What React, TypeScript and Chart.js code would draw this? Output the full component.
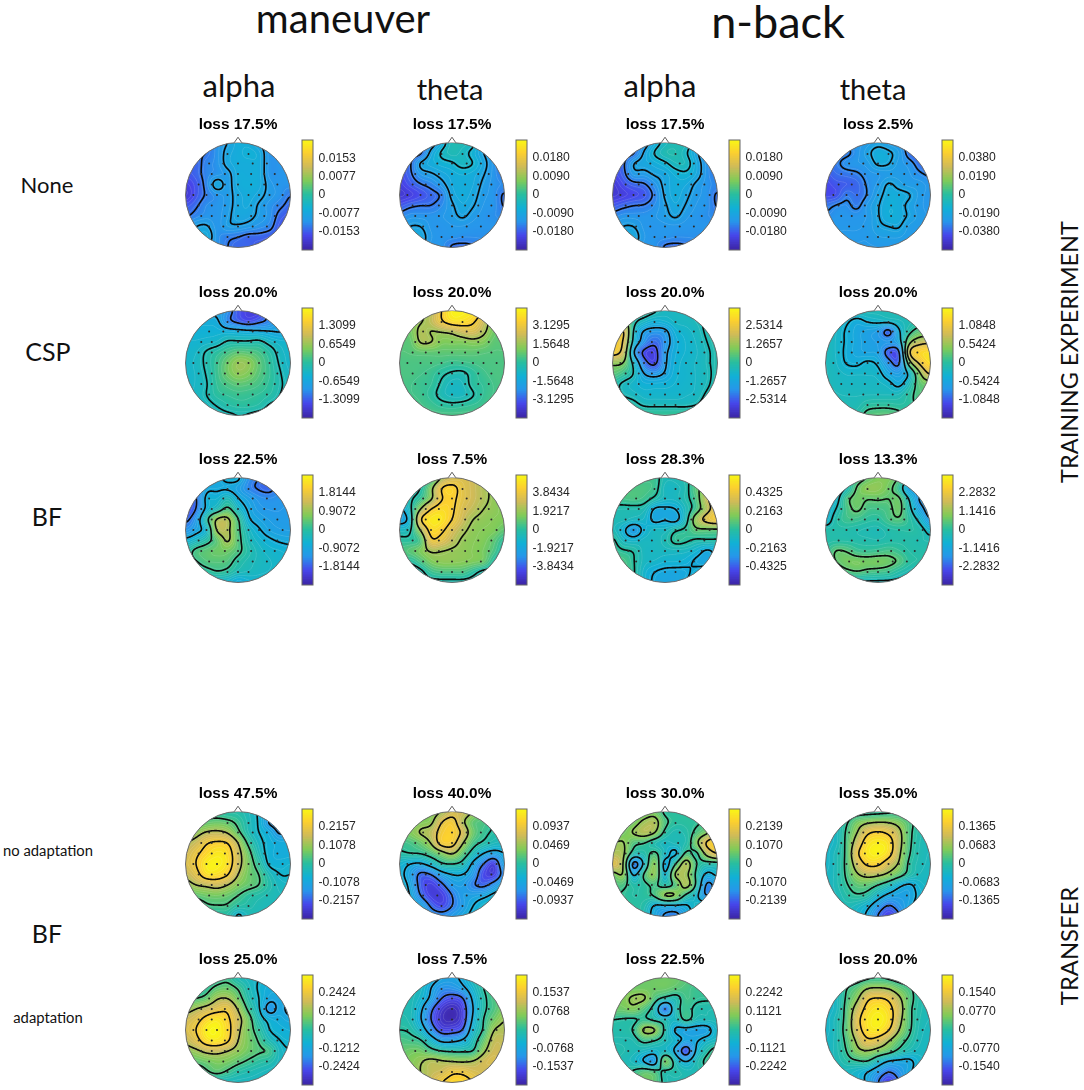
import React, { useEffect, useRef } from "react";
import { Chart, registerables } from "chart.js";

Chart.register(...registerables);

// All scalp maps are stored as 11x11 rows (front to back, left to right) in tenths of the colour limit.
const noneManeuverAlpha = [
  [-6,-6,-6,-5,-4,-3,-3,-4,-5,-5,-5],
  [-6,-6,-6,-5,-3.5,-3,-2.5,-3,-5,-5,-5],
  [-6.5,-6.5,-5.5,-5,-3.5,-3,-3,-3,-5,-5,-5],
  [-7,-6.5,-5.5,-5,-4.5,-3,-3,-3,-5,-5,-5],
  [-8,-7,-5.5,-3.2,-4.5,-3,-2.8,-3,-4.5,-5,-5],
  [-8.5,-7,-5.8,-5,-4.5,-3.5,-3,-3.5,-4.5,-5,-6],
  [-7,-6.2,-5.2,-5,-4.5,-3.5,-3.2,-4.2,-5,-5.7,-6.5],
  [-6.2,-5.5,-5,-5,-4.3,-3.5,-3.6,-4.3,-5,-6.5,-7],
  [-5,-4,-3.8,-5,-4.2,-4.2,-4.5,-5,-5.5,-7,-7],
  [-5,-3.8,-3,-5,-5.7,-6,-6.5,-6.5,-6.8,-7,-7],
  [-5,-5,-4.5,-5,-6,-6.5,-6.5,-7,-7,-7,-7],
];
const noneManeuverTheta = [
  [-6,-6,-6,-5,-3,-1,-1,-1.5,-4,-5,-5],
  [-6.5,-6.5,-6.3,-3.5,-1.8,-1,-1.5,-2.5,-4,-5,-6],
  [-7,-6.2,-3.8,-3,-2.5,-2.2,-1.5,-2,-3.5,-5,-6.5],
  [-7.5,-6.3,-4.7,-4.2,-3.5,-3,-2.7,-3,-3.9,-5,-6],
  [-8,-7,-6.1,-5.5,-4.5,-3.2,-3,-3.2,-4.3,-5,-5.3],
  [-8.5,-8,-7.3,-6.5,-5.8,-3.6,-3,-3.5,-4.6,-5,-6.3],
  [-7,-6.3,-6,-6,-5.3,-4.2,-3.3,-3.9,-4.8,-5,-6.2],
  [-5.5,-5,-5,-5,-4.8,-4.4,-3.8,-4.5,-5,-5.2,-5.5],
  [-5,-4,-4,-4.9,-5,-4.8,-4.8,-5,-5,-5,-5],
  [-5,-3.3,-3.3,-4.7,-5,-5,-5.2,-5.2,-5.2,-5.2,-5.2],
  [-5,-4.8,-3.7,-5,-5,-6.3,-6.5,-6.2,-5.3,-5.2,-5.2],
];
const noneNbackAlpha = [
  [-6,-6,-6,-5,-3,-1.5,-1,-1,-3.5,-5.5,-5.5],
  [-6.5,-6.5,-6.2,-3.8,-1.9,-0.8,-0.7,-1.8,-3.7,-5.5,-6.3],
  [-7,-6.3,-4,-3.5,-3,-2.3,-1.3,-1.3,-3.2,-5,-6.5],
  [-7.5,-6.5,-4.5,-4.5,-3.8,-3.5,-2.6,-2.3,-3.3,-5,-6],
  [-8.5,-7.3,-6.5,-6.2,-5,-3.6,-3,-3.2,-4.3,-5,-5.5],
  [-8.5,-8,-7.5,-7,-5.7,-3.8,-3,-3.7,-4.6,-5,-6.3],
  [-7,-6.4,-6,-5.9,-5.2,-4.2,-3.3,-4.1,-4.8,-5,-6.2],
  [-5.5,-5,-5,-5,-4.8,-4.4,-3.8,-4.6,-5,-5.2,-5.5],
  [-5,-4,-4,-4.9,-5,-4.9,-4.9,-5,-5,-5,-5],
  [-5,-3.3,-3.3,-4.7,-5,-5,-5.2,-5.2,-5.2,-5.2,-5.2],
  [-5,-4.8,-4,-5,-5,-6.3,-6.5,-6.2,-5.3,-5.2,-5.2],
];
const noneNbackTheta = [
  [-5,-5,-5,-5,-4.5,-4,-4.5,-5,-6,-6,-6],
  [-6,-6,-5.8,-5,-3.9,-2.8,-3.2,-4.2,-6.2,-6.8,-6.8],
  [-6.3,-5.8,-5,-4.8,-4.5,-3.2,-3.4,-4.5,-5,-6.2,-6.8],
  [-7,-6.3,-6,-5.7,-5,-4.8,-4.5,-4.5,-4.7,-5.3,-5.8],
  [-7.5,-7,-6.8,-6.5,-5.3,-4.6,-3.3,-4,-4.5,-4.5,-5],
  [-7.5,-7.2,-5.8,-6.3,-5.4,-4,-3,-3,-3.4,-4.5,-5],
  [-6,-5.4,-5.2,-5.8,-4.6,-3.6,-2.8,-3,-3.9,-4.6,-5],
  [-5.3,-5,-5,-5,-4.7,-3.6,-2.8,-3,-3.7,-4.5,-4.8],
  [-4.8,-4.8,-4.8,-4.8,-4.6,-3.8,-3.5,-3.4,-4.4,-4.6,-4.8],
  [-4.7,-4.7,-4.7,-4.7,-4.7,-4.3,-4.2,-4.2,-4.6,-4.7,-4.8],
  [-4.8,-4.8,-4.8,-4.8,-4.8,-4.8,-4.8,-4.8,-4.8,-4.8,-4.8],
];
const cspManeuverAlpha = [
  [-4,-4,-4,-4,-5,-7,-8,-8,-5,-3,-3],
  [-3,-3,-3,-3.2,-5.5,-6.6,-7.3,-6.5,-5.5,-3.3,-2.8],
  [-2.5,-2.5,-2.5,-2.5,-2.6,-2.8,-3,-3.2,-3.4,-3.6,-3],
  [-2.2,-2.2,-2,-1.7,-0.8,-0.8,-0.8,-0.6,-1.5,-2,-2.2],
  [-2,-1.8,-0.8,0,0.8,1.5,1.3,0.8,-0.2,-1.5,-2],
  [-2,-1.6,-0.7,0.5,2,3.3,3,1.5,0.2,-1.2,-2],
  [-2,-1.7,-0.9,0.5,2,3,2.5,1.3,0.3,-0.9,-1.8],
  [-2,-1.7,-1.1,0.3,1,1.5,1.3,0.8,0.1,-0.8,-1.5],
  [-1.8,-1.6,-1,0,0.3,0.5,0.4,0.2,-0.2,-1,-1.5],
  [-1.6,-1.5,-1.4,-0.9,-0.3,0,0,-0.3,-1.1,-1.3,-1.5],
  [-1.5,-1.5,-1.5,-1.5,-1.3,-1.1,-1.2,-1.5,-1.5,-1.5,-1.5],
];
const cspManeuverTheta = [
  [2,2,3,4,7,9.5,9.5,9,7,4,2],
  [2,2.5,3.3,4.5,6.8,8.5,8.5,7.5,5,2.5,2],
  [1.5,2,4,3.4,3.6,4,5,5.5,4,2,1.5],
  [1.5,1.5,3.7,3.6,2.5,2.5,2.5,2.8,2.5,1.5,1.5],
  [1.2,1.3,1.5,1.5,1.5,1.5,1.5,1.5,1.3,1.2,1.2],
  [1,1,1,1,0.8,0.5,0.6,0.8,1,1,1],
  [1,1,0.8,0.5,-0.2,-0.7,-0.8,0,0.6,1,1],
  [1,0.8,0.5,0.3,-0.7,-1.5,-1.3,0,0.3,0.8,1],
  [1,0.8,0.6,0,-1,-1.5,-1.5,-0.6,0.3,0.8,1],
  [1,1,0.8,0.5,0,-0.2,0,0.3,0.6,1,1],
  [1,1,1,1,1,1,1,1,1,1,1],
];
const cspNbackAlpha = [
  [0,0,0,0,-0.7,-1.5,-1.5,-1.5,-1,0,0],
  [1,3.5,-0.3,-1.6,-2.5,-2.2,-1.6,-1.5,-1.2,-0.7,-0.5],
  [3.5,6.5,-1.2,-4.2,-4.8,-4.5,-2.5,-2,-1.5,-0.8,-0.5],
  [7,6,-1.8,-5,-6.5,-5,-3,-2.2,-1.7,-1,-0.5],
  [7,5,-3.8,-7.5,-7.8,-4.5,-2.8,-2.2,-1.8,-1.2,-0.6],
  [3,2.5,-1.5,-6,-7.5,-4.3,-2.6,-2,-1.7,-1.2,-0.6],
  [1.5,0.5,-1,-4,-4.8,-3.8,-2.4,-2.1,-1.7,-1.3,-0.6],
  [-0.3,-1.3,-2,-2.6,-2.6,-2.5,-2.2,-2,-1.7,-1.2,-0.5],
  [0,-1.1,-1.5,-2,-2,-2,-2,-1.8,-1.6,-0.8,-0.4],
  [0.5,0,-0.5,-1.2,-1.3,-1.3,-1.3,-1.3,-1,-0.3,0],
  [0.5,0.5,0.5,0.5,0.5,0.5,0.5,0.5,0.5,0.5,0.5],
];
const cspNbackTheta = [
  [-1,-1,-1,-1,-1,-1,-1,-1,-1,-0.8,0],
  [-1.2,-1.5,-2.2,-3,-2.3,-2,-1.7,-1.3,-1,-0.3,0],
  [-1.2,-1.7,-2.7,-3.5,-4,-4.5,-6.8,-2.8,0,1.5,1.5],
  [-1.2,-1.8,-2.7,-3.5,-4,-4.3,-4.5,-3.5,2.5,4.5,5],
  [-1.2,-1.8,-2.8,-3.5,-3.8,-4,-7,-6.5,5.5,8,8.5],
  [-1.2,-1.7,-2.6,-2.8,-2.2,-2.8,-5,-6.5,2,6,8.5],
  [-1.2,-1.5,-1.8,-1.8,-1.8,-2,-3.5,-4.2,-2,2.8,6],
  [-1.2,-1.4,-1.6,-1.6,-1.6,-1.6,-2,-3,-1,1.5,2],
  [-1,-1.2,-1.3,-1.3,-1.3,-1.3,-1.3,-1.2,0,1.2,1.2],
  [-1,-1,-1,-1,-0.2,0,0,-0.2,0,1,1],
  [-1,-1,-1,-0.5,1.2,1.5,1.5,1,-0.3,0,0.3],
];
const bfManeuverAlpha = [
  [-4,-4,-4,-3.5,-2.5,-2.5,-5,-6,-6,-5,-5],
  [-5,-5.5,-3.5,-3.3,-3.3,-4,-5.5,-6.2,-6.5,-5.2,-5],
  [-6.5,-6.2,-2.5,-2.3,-1,-2.9,-4,-5,-5.2,-5,-5],
  [-7.5,-6,-2.5,-1,1,-1.5,-3.3,-4.5,-4.8,-4.8,-4.5],
  [-6.5,-4.5,-0.1,3.8,4,0.7,-2.7,-3.7,-4.3,-4.5,-4.5],
  [-5,-3.7,-2,3.8,4,1,-1.5,-2.8,-3.8,-4.2,-4.3],
  [-2.5,-1.5,-0.2,1.5,3.8,1.2,-1,-2,-2.7,-3.2,-3.4],
  [-0.5,1,1.5,2,2,1,-0.5,-1.5,-2,-2.2,-2.5],
  [-0.5,0.4,1.2,1.3,1.2,-0.2,-1,-1.4,-1.7,-2,-2.2],
  [-1,-0.8,-0.2,0.4,0,-1,-1.3,-1.6,-1.8,-2,-2.2],
  [-2.2,-2.2,-2.2,-2.2,-2.2,-3.2,-2.5,-2.2,-2.2,-2.2,-2.2],
];
const bfManeuverTheta = [
  [-1,-1,-1,0,3.5,5,5.5,5,4,3,2],
  [-1,-1,-0.5,2.8,7,7.8,6,5,4,3,2],
  [-1,-0.8,0.5,3,6.8,7.5,6,5,4,3,2],
  [-3.5,-1,3.4,7,8.2,7.4,5.5,4.5,3.5,3,2.5],
  [-4,-2,6.8,9,8.8,7,5,3.5,3,2.7,2.5],
  [-1.5,-0.8,3.6,8,7.5,5.5,4,3,2.7,2.5,1.5],
  [0,0,1,6.5,6,4.5,3.2,2.8,2.5,1.5,0],
  [1,1.5,2.5,3.7,3.5,3.2,3,2.7,2.2,1,-0.8],
  [1,-0.2,1,2.5,3,3,2.8,2.5,2,-0.2,-1],
  [-1,-1.5,-1,0.5,1,1,1,0,-1,-1,-1],
  [-1,-1,-1,-1,-1,-1,-1,-1,-1,-1,-1],
];
const bfNbackAlpha = [
  [0.5,0.5,0.5,0.5,0.5,-1,-1,-0.5,0.5,1.5,2],
  [0.5,1,1,1,0.5,-1.5,-1.5,-0.7,1.5,3,3.5],
  [0.5,0.8,1,0.6,-0.5,-1.5,-1.5,-0.6,1,4.8,5.5],
  [-0.7,-0.8,-0.8,-1,-3.2,-3.3,-3,-1.2,0.8,4,6.5],
  [-1,-1,-1.5,-1.8,-3.5,-3.1,-3.6,-1,3.5,6,7],
  [-1,-2.5,-4.5,-2.5,-1.5,-1.5,-0.4,0.2,1.5,1.5,1.5],
  [0.2,-1.5,-2,-1.5,-1.5,-1,0.3,0.05,-0.5,-0.4,-0.4],
  [0.5,0,-0.3,-1.5,-1.5,-1.5,-1.5,-1.6,-2.2,-3.3,-2.5],
  [1,1,-0.1,-1.5,-1.8,-2.2,-2.2,-2.5,-3.3,-3.5,-2],
  [1,1,0,-2,-3,-3.4,-3.5,-3.3,-2.5,-2,-1.5],
  [1,1,0,-2,-3.3,-3.6,-3.6,-3,-2,-1.5,-1.5],
];
const bfNbackTheta = [
  [0,0,0,0.5,1.5,2.5,2.5,1.5,-0.5,-2,-2],
  [-2,-2,-1,1.7,3,3,2,0.2,-4,-3,-2.5],
  [-2,-2,1,2,1.6,1.7,1.5,1.8,-1.5,-4.8,-4],
  [-2.5,-1.2,0.8,1.8,0.8,0.7,1,2,-0.7,-3.7,-5.5],
  [-2.3,-0.4,0.6,0.5,0,-0.1,0.8,1.3,0,-1.8,-4.6],
  [-0.5,-0.5,-0.5,-0.7,-0.9,-1,-0.5,-0.3,-0.2,-0.5,-2],
  [-0.5,-0.4,-0.4,-0.5,-0.6,-0.7,-0.5,-0.4,-0.5,-0.7,-0.8],
  [0,1.6,1.4,0.5,0.3,0.5,0.8,0.3,-0.3,-0.5,-0.5],
  [0.5,1.5,2.2,2.3,2.2,2.3,2,1.3,0,-0.3,-0.3],
  [0.2,0.4,1,1.4,1,0.8,0.5,-0.4,-1,-1.3,-1],
  [-1.6,-1.6,-1.6,-1.6,-1.6,-1.6,-1.6,-1.6,-1.6,-1.6,-1.6],
];
const noAdaptManeuverAlpha = [
  [0,0,0,0,-0.5,-0.5,-1.2,-2.2,-3,-3,-3],
  [0.5,1,1.5,1.8,1.5,0.5,-1,-2.2,-4.8,-4.8,-3.5],
  [2,3,4.2,4.5,3.8,1.5,-0.8,-2,-3,-4.8,-3.5],
  [4,5,6.8,7.4,7,4,0.5,-1.5,-2.5,-3,-3],
  [5,6.5,8,9,8.3,5,1.8,-1,-2.5,-3,-3],
  [5.5,7,9.3,9.5,8.5,5,2.2,0,-2.3,-2.5,-2.2],
  [4.5,6,8.5,8.5,7.2,4,2,1,-1,-2,-2],
  [3,4,4.5,5,4,2.5,1.7,1,-0.5,-1.5,-1.7],
  [0.5,1.5,2,2.2,1.8,1,0,-0.5,-1,-1.2,-1.5],
  [-0.5,-0.3,0.7,0.9,0.8,-0.2,-0.5,-1,-1.2,-1.3,-1.5],
  [-0.5,-0.5,-0.5,-0.5,-0.5,-2.5,-1.2,-1.2,-1.2,-1.3,-1.5],
];
const noAdaptManeuverTheta = [
  [1,1,1.5,2.5,3.5,5,5,3.5,1.5,1,1],
  [1,1.5,2.5,3,5.9,7,4,1.5,1,0,-1],
  [1.5,2.5,3.7,4.5,7,7.5,5.5,2,0.5,-0.3,-1],
  [0.5,0.8,1.8,3.6,7,7,3.7,0.8,-0.3,-1.2,-1.5],
  [-0.3,0,0.1,1,2.5,3.7,1.5,-1,-3,-4,-3],
  [-2,-3,-3.3,-2,-0.3,0,-0.7,-3.5,-6,-8,-3.5],
  [-2.5,-4,-6.5,-6,-4,-3,-3,-4.5,-7.5,-8,-5],
  [-2,-3.5,-6.8,-8,-6.5,-4.5,-4.2,-5.8,-6.5,-5,-3],
  [-2,-3,-6,-8,-8,-6,-4.3,-4,-3.5,-2.5,-2],
  [-2,-2.5,-3.5,-6.3,-7.5,-6,-4.5,-3,-2,-2,-2],
  [-2,-2,-3,-4.5,-5,-4.5,-3.5,-2.5,-2,-2,-2],
];
const noAdaptNbackAlpha = [
  [1,1,1,1.5,2,0,0,0,0,1,1],
  [1,1.5,2,3.5,4,1,0,0,0.2,1,2],
  [1.5,2,3.2,4.2,3.2,0,-1,-0.5,1,2.5,5],
  [3,3.2,1,0.5,-0.8,-1.5,-1,-0.7,2.5,6.5,7.5],
  [4,3.5,-0.5,-0.5,1,-1.5,-3,1,0,4,6.2],
  [6,3.2,-6,-2,3,-3.5,0.5,4.2,0.5,-0.5,-0.5],
  [2,3,-3,0.8,3,-2.5,3.5,3.5,0,-3,-2],
  [1,1,-0.5,0,0.8,-0.5,1,4,0,-5.5,-4],
  [0.8,0.3,-0.3,0,0.8,3.3,3,0,-2,-5.2,-2.5],
  [0.5,0.6,0,-0.5,-2.8,-3,-3,-2.8,-1.5,-1,-1],
  [0.5,0.5,0.5,-1,-3.5,-5.5,-6,-3.5,-2,-1,-1],
];
const noAdaptNbackTheta = [
  [-1,-1,-1,-0.5,-0.3,-0.2,0,0,-0.5,-1,-1],
  [-2,-1.5,0.2,2.2,3,3.4,3.3,2.5,1,-0.5,-1],
  [-2,-1.5,0.8,3.4,6.5,7.3,6.5,4.2,1,-0.6,-1.2],
  [-2,-1.5,1,5,8.5,9.2,8.5,4.5,0.9,-0.8,-1.2],
  [-2,-1,1,6.5,9,9.5,8.2,4,0.6,-0.9,-1.3],
  [-2,-1,1,5,7.5,7.5,5.2,3.2,0,-1,-1.4],
  [-1.8,-1,0.8,3.2,4.3,4,3,1.5,-0.3,-1.3,-1.5],
  [-1.8,-1,0.3,1.5,1.5,0.5,-0.8,-2.5,-3.3,-2,-1.5],
  [-1.7,-1.3,-0.3,0.3,-0.2,-2,-3.5,-4,-3.8,-2.5,-1.7],
  [-1.7,-1.5,-1,-1.5,-2.5,-4.5,-6.2,-5,-3.5,-2,-1.7],
  [-1.7,-1.5,-1.5,-2,-3.5,-6.2,-8,-6.3,-3,-2,-1.7],
];
const adaptManeuverAlpha = [
  [-1,-1,-0.5,0,0.5,-1,-1.5,-2,-2.5,-3,-3],
  [-1,-1,0.2,1.5,1.8,0.8,-1,-2.2,-3,-3,-3],
  [0.5,1,1.8,3.8,4,2,-0.5,-2,-3.5,-3.5,-3.5],
  [3,4,5,6,6.5,3.8,0.5,-1.8,-4.8,-3.5,-4.8],
  [5,6,8,9,7.5,5,2,-1,-2.5,-3,-3.5],
  [5.5,7,9.5,9.7,8,4.6,2,0,-2,-2.5,-2.8],
  [4.5,6,8.5,9,7.5,4,2.2,0.8,-1,-2,-2.3],
  [3,3.5,4.6,4.8,4,3,2,1.2,0.8,-1.5,-2],
  [1,1.5,2,2.5,2.3,1.5,0.7,0,-0.5,-1.5,-2],
  [-1,-0.5,0.7,1.5,0.7,-0.3,-0.8,-1.2,-1.5,-1.8,-2],
  [-1.5,-1.5,-1.5,-1.5,-1.5,-1.5,-1.5,-1.5,-1.5,-1.8,-2],
];
const adaptManeuverTheta = [
  [-1,-1,-1,-2.5,-3.5,-3.8,-3,-1,0,1,1],
  [-1,-1,-1.5,-3.5,-5,-5,-4,-2,0,1,1],
  [-1,-1,-2,-4,-6.5,-7.5,-6.7,-3,-0.5,1,1.5],
  [-1,-1,-3,-6,-8.5,-9.5,-8,-3.5,-0.5,1,2.5],
  [-0.5,-1,-3.3,-6.5,-9,-9.5,-8,-3,0,2,3.5],
  [0,-0.3,-2,-5,-7.5,-7.5,-6.5,-2,0.2,3.5,4],
  [1,0.7,0.2,-2,-4,-4,-3.2,-1,1.5,4.5,4.5],
  [1.5,2,2,0.8,0,-0.3,-0.3,0,3,5,4.5],
  [2,2.5,3.3,4.2,3.8,3.5,3.3,3.7,5,5.5,4],
  [1.5,2.5,3.5,4.5,5,6.5,6.5,5.5,5,4,3],
  [1,2,3,5,7,8,8,7,4.5,3,2.5],
];
const adaptNbackAlpha = [
  [2,2,2,2,2,2,2,1.5,1,0.5,0.5],
  [2,2,2,2,2,2,1.5,1,0.5,0.5,0.5],
  [2,2.5,3.3,3.3,1,-0.5,-0.8,0.8,0.3,0.2,0.3],
  [2,2,2.5,1,-1,-6.5,-1,0.5,-0.5,-0.7,-0.8],
  [0,-0.2,-0.3,0.2,-0.5,-1,-1.5,0.5,-1,-1,-1],
  [-0.5,-0.5,0.2,3.5,3.3,-0.5,-3.3,-3.8,-4,-4,-1.5],
  [-0.8,-0.8,-0.8,0.5,0,-1,-2,-3.5,-3.2,-2,-1.5],
  [-0.5,-0.7,-1,-1.5,-2,-1.5,-3.5,-7.5,-2.5,-0.5,1],
  [-0.5,-1,-1.5,-3.2,-4.5,2.5,-1,-3,-1,0.5,1.5],
  [-0.5,-0.5,0.3,1.5,1,-0.5,-0.5,-1,-1,-0.5,-0.5],
  [-0.5,-0.5,1,2,1.5,-0.5,-1,-1,-1,-1,-1],
];
const adaptNbackTheta = [
  [-1,-1,-1,-0.5,0,0.2,0,-0.5,-1,-1,-1],
  [-2,-1.5,0.4,1.5,3.3,3.6,3.2,1.8,0.7,-0.5,-1],
  [-2,-1.5,0.8,3,6.5,7.2,6.5,4,1.3,-0.5,-1.2],
  [-2,-1.5,1.2,4.8,8,9,8,5,1,-0.6,-1.2],
  [-2,-1,1.3,6,8.8,9.5,8.5,4.5,1,-0.8,-1.3],
  [-2,-1,1.5,5.5,8.5,9,7.2,3.5,0.8,-1,-1.4],
  [-1.8,-1,1,4,6.5,5.8,3.7,1.5,0,-1.2,-1.5],
  [-1.8,-1,0.5,2.8,3.4,2.5,1.5,0,-1,-1.5,-1.5],
  [-1.7,-1.2,-0.3,0.2,0.4,-1.5,-3.2,-3.5,-3.5,-2,-1.7],
  [-1.7,-1.5,-1.5,-2,-3,-4.5,-6,-5,-3.3,-2,-1.7],
  [-1.7,-1.5,-1.5,-2,-3.5,-6,-8,-6,-3,-2,-1.7],
];

const lossLabels = [
  ["loss 17.5%", "loss 17.5%", "loss 17.5%", "loss 2.5%"],
  ["loss 20.0%", "loss 20.0%", "loss 20.0%", "loss 20.0%"],
  ["loss 22.5%", "loss 7.5%", "loss 28.3%", "loss 13.3%"],
  ["loss 47.5%", "loss 40.0%", "loss 30.0%", "loss 35.0%"],
  ["loss 25.0%", "loss 7.5%", "loss 22.5%", "loss 20.0%"],
];
const maps = [
  [noneManeuverAlpha, noneManeuverTheta, noneNbackAlpha, noneNbackTheta],
  [cspManeuverAlpha, cspManeuverTheta, cspNbackAlpha, cspNbackTheta],
  [bfManeuverAlpha, bfManeuverTheta, bfNbackAlpha, bfNbackTheta],
  [noAdaptManeuverAlpha, noAdaptManeuverTheta, noAdaptNbackAlpha, noAdaptNbackTheta],
  [adaptManeuverAlpha, adaptManeuverTheta, adaptNbackAlpha, adaptNbackTheta],
];
const upperTicks = [
  [0.0153, 0.018, 0.018, 0.038],
  [1.3099, 3.1295, 2.5314, 1.0848],
  [1.8144, 3.8434, 0.4325, 2.2832],
  [0.2157, 0.0937, 0.2139, 0.1365],
  [0.2424, 0.1537, 0.2242, 0.154],
];
const middleTicks = [
  [0.0077, 0.009, 0.009, 0.019],
  [0.6549, 1.5648, 1.2657, 0.5424],
  [0.9072, 1.9217, 0.2163, 1.1416],
  [0.1078, 0.0469, 0.107, 0.0683],
  [0.1212, 0.0768, 0.1121, 0.077],
];
const contourLevels = [
  [[-6, -4], [-6, -4, -2], [-6, -4, -2], [-5.5, -3.5]],
  [[-6, -3.5, -1], [-0.5, 3.5, 7], [-7, -4, -1, 2.5, 6], [-6, -2.5, 0.5, 3, 5.5]],
  [[-6, -3, 0.5, 3.5], [-3, -0.5, 3.5, 7], [-3, -0.2, 2, 5], [-4.5, -1.2, 1.5]],
  [[-4.5, -2, 1, 4, 7], [-6, -3, 0, 3.5, 6], [-5, -2.5, 0.5, 3, 6], [-6, -3, 0.5, 3.5, 7]],
  [[-4, -2, 1, 4, 7], [-6.5, -3.5, 0, 3.5, 7], [-6, -3, 0, 3], [-6, -3, 0.5, 3.5, 7]],
];
const electrodeRows = [
  [0.78, [-0.2, 0.2]],
  [0.6, [-0.55, -0.28, 0, 0.28, 0.55]],
  [0.4, [-0.7, -0.5, -0.25, 0, 0.25, 0.5, 0.7]],
  [0.2, [-0.75, -0.5, -0.25, 0, 0.25, 0.5, 0.75]],
  [0, [-0.85, -0.6, -0.4, -0.2, 0, 0.2, 0.4, 0.6, 0.85]],
  [-0.2, [-0.75, -0.5, -0.25, 0, 0.25, 0.5, 0.75]],
  [-0.4, [-0.7, -0.5, -0.25, 0, 0.25, 0.5, 0.7]],
  [-0.6, [-0.55, -0.28, 0, 0.28, 0.55]],
  [-0.8, [-0.2, 0, 0.2]],
] as [number, number[]][];
const columnCentres = [238, 451.7, 665, 877.7];
const rowCentres = [195, 362.5, 530, 864, 1030];
const parulaStops = [
  [0.2422, 0.1504, 0.6603], [0.2803, 0.2782, 0.9221], [0.154, 0.5902, 0.9218],
  [0.0689, 0.6948, 0.8394], [0.1661, 0.7479, 0.6238], [0.5044, 0.7993, 0.348],
  [0.8186, 0.7328, 0.3498], [0.9892, 0.8136, 0.1885], [0.9769, 0.9839, 0.0805],
];

const headSide = 124;
const headRadius = 52.5;
const axisReach = headSide / 2 / headRadius;
const fieldSize = 160;
const axisFont = "'Liberation Sans', Arial, sans-serif";

function parula(v: number): number[] {
  const t = Math.max(0, Math.min(1, (v + 10) / 20)) * (parulaStops.length - 1);
  const i = Math.min(parulaStops.length - 2, Math.floor(t));
  const f = t - i;
  return parulaStops[i].map((c, k) => 255 * (c + (parulaStops[i + 1][k] - c) * f));
}

function catmull(a: number, b: number, c: number, d: number, t: number) {
  return 0.5 * (2 * b + (c - a) * t + (2 * a - 5 * b + 4 * c - d) * t * t + (3 * b - a - 3 * c + d) * t * t * t);
}

function softenField(field: number[][], radius: number): number[][] {
  const n = field.length;
  const horizontal = field.map((line) => line.map((_, i) => {
    let sum = 0, count = 0;
    for (let k = Math.max(0, i - radius); k <= Math.min(n - 1, i + radius); k++) { sum += line[k]; count++; }
    return sum / count;
  }));
  return horizontal.map((line, j) => line.map((_, i) => {
    let sum = 0, count = 0;
    for (let k = Math.max(0, j - radius); k <= Math.min(n - 1, j + radius); k++) { sum += horizontal[k][i]; count++; }
    return sum / count;
  }));
}

function sampleField(rows: number[][], size: number): number[][] {
  const n = rows.length - 1;
  const at = (r: number, c: number) => rows[Math.max(0, Math.min(n, r))][Math.max(0, Math.min(n, c))];
  const out: number[][] = [];
  for (let j = 0; j < size; j++) {
    const fy = (j / (size - 1)) * n;
    const y0 = Math.min(n - 1, Math.floor(fy));
    const ty = fy - y0;
    const line: number[] = [];
    for (let i = 0; i < size; i++) {
      const fx = (i / (size - 1)) * n;
      const x0 = Math.min(n - 1, Math.floor(fx));
      const tx = fx - x0;
      const col = [-1, 0, 1, 2].map((dy) =>
        catmull(at(y0 + dy, x0 - 1), at(y0 + dy, x0), at(y0 + dy, x0 + 1), at(y0 + dy, x0 + 2), tx)
      );
      line.push(catmull(col[0], col[1], col[2], col[3], ty));
    }
    out.push(line);
  }
  return softenField(softenField(out, 3), 3);
}

function traceLevel(ctx: CanvasRenderingContext2D, field: number[][], level: number, px: (i: number) => number, py: (j: number) => number) {
  const n = field.length;
  const edge = (a: number, b: number) => (level - a) / (b - a);
  for (let j = 0; j < n - 1; j++) {
    for (let i = 0; i < n - 1; i++) {
      const a = field[j][i], b = field[j][i + 1], c = field[j + 1][i + 1], d = field[j + 1][i];
      const pts: [number, number][] = [];
      if (a < level !== b < level) pts.push([i + edge(a, b), j]);
      if (b < level !== c < level) pts.push([i + 1, j + edge(b, c)]);
      if (d < level !== c < level) pts.push([i + edge(d, c), j + 1]);
      if (a < level !== d < level) pts.push([i, j + edge(a, d)]);
      for (let k = 0; k + 1 < pts.length; k += 2) {
        ctx.moveTo(px(pts[k][0]), py(pts[k][1]));
        ctx.lineTo(px(pts[k + 1][0]), py(pts[k + 1][1]));
      }
    }
  }
}

function scalpPlugin(rows: number[][], levels: number[]) {
  return {
    id: "scalp",
    beforeDatasetsDraw(chart: any) {
      const { ctx, scales } = chart;
      const sx = scales.x, sy = scales.y;
      const cx = sx.getPixelForValue(0), cy = sy.getPixelForValue(0);
      const r = sx.getPixelForValue(1) - cx;
      const field = sampleField(rows, fieldSize);
      const off = document.createElement("canvas");
      off.width = fieldSize;
      off.height = fieldSize;
      const octx = off.getContext("2d")!;
      const img = octx.createImageData(fieldSize, fieldSize);
      field.forEach((line, j) => line.forEach((v, i) => {
        const [rc, gc, bc] = parula(v);
        const p = (j * fieldSize + i) * 4;
        img.data[p] = rc; img.data[p + 1] = gc; img.data[p + 2] = bc; img.data[p + 3] = 255;
      }));
      octx.putImageData(img, 0, 0);
      const px = (i: number) => sx.getPixelForValue(-1 + (2 * i) / (fieldSize - 1));
      const py = (j: number) => sy.getPixelForValue(1 - (2 * j) / (fieldSize - 1));
      ctx.save();
      ctx.beginPath();
      ctx.arc(cx, cy, r, 0, Math.PI * 2);
      ctx.clip();
      ctx.imageSmoothingEnabled = true;
      ctx.drawImage(off, cx - r, cy - r, 2 * r, 2 * r);
      ctx.lineCap = "round";
      ctx.lineJoin = "round";
      ctx.beginPath();
      for (let l = -9.75; l < 10; l += 0.5) traceLevel(ctx, field, l, px, py);
      ctx.strokeStyle = "rgba(255,255,255,0.13)";
      ctx.lineWidth = 0.5;
      ctx.stroke();
      ctx.beginPath();
      levels.forEach((l) => traceLevel(ctx, field, l, px, py));
      ctx.strokeStyle = "#0a0a0a";
      ctx.lineWidth = 1.6;
      ctx.stroke();
      ctx.restore();
      ctx.beginPath();
      ctx.arc(cx, cy, r, 0, Math.PI * 2);
      ctx.strokeStyle = "#6a6a6a";
      ctx.lineWidth = 1;
      ctx.stroke();
      ctx.beginPath();
      ctx.moveTo(sx.getPixelForValue(-0.07), sy.getPixelForValue(1.0));
      ctx.lineTo(sx.getPixelForValue(0), sy.getPixelForValue(1.1));
      ctx.lineTo(sx.getPixelForValue(0.07), sy.getPixelForValue(1.0));
      ctx.fillStyle = "#fff";
      ctx.fill();
      ctx.strokeStyle = "#333";
      ctx.lineWidth = 0.8;
      ctx.stroke();
    },
  };
}

const barBorder = {
  id: "barBorder",
  afterDatasetsDraw(chart: any) {
    const { ctx, chartArea: a } = chart;
    ctx.save();
    ctx.strokeStyle = "#666";
    ctx.lineWidth = 1;
    ctx.strokeRect(a.left, a.top, a.right - a.left, a.bottom - a.top);
    ctx.restore();
  },
};

function makeHead(canvas: HTMLCanvasElement, rows: number[][], levels: number[], title: string) {
  const electrodes = electrodeRows.flatMap(([y, xs]) => xs.map((x) => ({ x, y })));
  return new Chart(canvas, {
    type: "scatter",
    data: { datasets: [{ data: electrodes, pointRadius: 1, pointBorderWidth: 0, backgroundColor: "#2a2a2a" }] },
    options: {
      animation: false,
      responsive: false,
      events: [],
      layout: { padding: 0, autoPadding: false },
      scales: {
        x: { type: "linear", min: -axisReach, max: axisReach, display: false },
        y: { type: "linear", min: -axisReach, max: axisReach, display: false },
      },
      plugins: {
        legend: { display: false },
        tooltip: { enabled: false },
        title: {
          display: true,
          text: title,
          color: "#000",
          padding: { top: 0, bottom: 0.6 },
          font: { family: axisFont, size: 15.4, weight: "bold", lineHeight: 1 },
        },
      },
    },
    plugins: [scalpPlugin(rows, levels)],
  } as any);
}

function makeBar(canvas: HTMLCanvasElement, upper: number, middle: number) {
  const limit = middle * 2.97;
  const tickValues = [upper, middle, 0, -middle, -upper];
  const bands = 64;
  const datasets = Array.from({ length: bands }, (_, i) => {
    const lo = -limit + (2 * limit * i) / bands;
    const hi = -limit + (2 * limit * (i + 1.3)) / bands;
    const [r, g, b] = parula(-10 + (20 * (i + 0.5)) / bands);
    return {
      data: [[lo, Math.min(hi, limit)]],
      backgroundColor: `rgb(${r | 0},${g | 0},${b | 0})`,
      grouped: false,
      barPercentage: 1,
      categoryPercentage: 1,
      borderWidth: 0,
    };
  });
  return new Chart(canvas, {
    type: "bar",
    data: { labels: [""], datasets },
    options: {
      animation: false,
      responsive: false,
      events: [],
      layout: { padding: { left: 1, top: 1, bottom: 1, right: 0 }, autoPadding: false },
      scales: {
        x: { display: false },
        y: {
          position: "right",
          min: -limit,
          max: limit,
          grid: { display: false, drawTicks: false },
          border: { display: false },
          afterBuildTicks: (s: any) => { s.ticks = tickValues.map((value) => ({ value })); },
          afterFit: (s: any) => { s.width = 60; s.paddingTop = 0; s.paddingBottom = 0; },
          ticks: {
            padding: 5.5,
            autoSkip: false,
            color: "#262626",
            font: { family: axisFont, size: 12.2 },
            callback: (v: any) => (Number(v) === 0 ? "0" : Number(v).toFixed(4)),
          },
        },
      },
      plugins: { legend: { display: false }, tooltip: { enabled: false } },
    },
    plugins: [barBorder],
  } as any);
}

function Panel({ r, c }: { r: number; c: number }) {
  const headRef = useRef<HTMLCanvasElement>(null);
  const barRef = useRef<HTMLCanvasElement>(null);
  useEffect(() => {
    const head = makeHead(headRef.current!, maps[r][c], contourLevels[r][c], lossLabels[r][c]);
    const bar = makeBar(barRef.current!, upperTicks[r][c], middleTicks[r][c]);
    return () => { head.destroy(); bar.destroy(); };
  }, [r, c]);
  const cx = columnCentres[c], cy = rowCentres[r];
  return (
    <>
      <canvas ref={headRef} width={headSide} height={headSide + 16}
        style={{ position: "absolute", left: cx - headSide / 2, top: cy - headSide / 2 - 16, width: headSide, height: headSide + 16 }} />
      <canvas ref={barRef} width={72} height={112}
        style={{ position: "absolute", left: cx + 63, top: cy - 56, width: 72, height: 112 }} />
    </>
  );
}

const labelFont = "Lato, 'Open Sans', sans-serif";
const pageLabels: [string, number, number, number, number][] = [
  ["maneuver", 343, 18, 40, 0],
  ["n-back", 778, 21, 45, 0],
  ["alpha", 239, 85, 31, 0],
  ["theta", 450, 88, 29, 0],
  ["alpha", 660, 85, 31, 0],
  ["theta", 873, 88, 29, 0],
  ["None", 47, 184, 22, 0],
  ["CSP", 48, 351, 25, 0],
  ["BF", 47, 516, 25, 0],
  ["no adaptation", 48, 850, 14.8, 0],
  ["BF", 47, 933, 25, 0],
  ["adaptation", 48, 1017, 14.8, 0],
  ["TRAINING EXPERIMENT", 1069, 352, 23.5, -90],
  ["TRANSFER", 1069, 946, 23.8, -90],
];

export default function App() {
  return (
    <div style={{ position: "absolute", left: 0, top: 0, width: 1084, height: 1090, background: "#fff", overflow: "hidden" }}>
      {pageLabels.map(([text, x, y, size, angle], i) => (
        <div key={i} style={{
          position: "absolute", left: x, top: y, fontFamily: labelFont, fontSize: size, color: "#111",
          whiteSpace: "nowrap", transform: `translate(-50%,-50%) rotate(${angle}deg)`,
        }}>{text}</div>
      ))}
      {rowCentres.map((_, r) => columnCentres.map((_, c) => <Panel key={`${r}-${c}`} r={r} c={c} />))}
    </div>
  );
}
